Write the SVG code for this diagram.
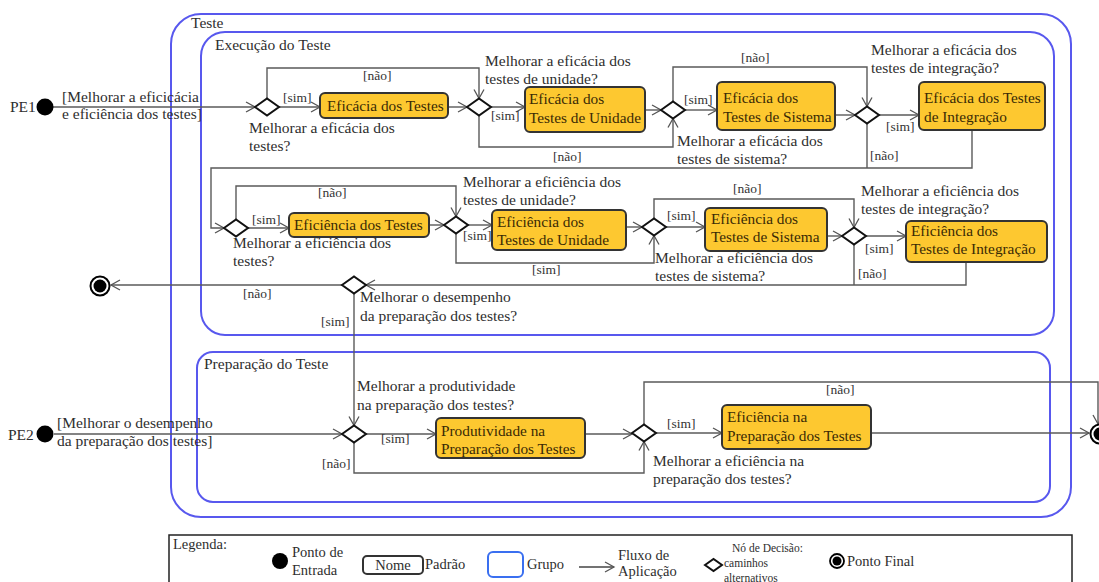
<svg xmlns="http://www.w3.org/2000/svg" xmlns:xlink="http://www.w3.org/1999/xlink" width="1099" height="582" viewBox="0 0 1099 582">
<style>
text{font-family:"Liberation Serif","Times New Roman",serif;font-size:15.5px;fill:#2e2e2e}
.g{font-size:13.5px;fill:#333}
.bt{fill:#3a2a05;font-size:15.3px}
.box{fill:#fdc830;stroke:#333;stroke-width:2}
.grp{fill:none;stroke:#5858ee;stroke-width:2}
.dm{fill:#fff;stroke:#111;stroke-width:2}
.c{fill:none;stroke:#5a5a5a;stroke-width:1.4}
.ca{fill:none;stroke:#5a5a5a;stroke-width:1.4;marker-end:url(#ar)}
.lg{font-size:14.5px}
.sm{font-size:11.5px}
</style>
<defs>
<marker id="ar" markerWidth="12" markerHeight="12" refX="10" refY="6" orient="auto" markerUnits="userSpaceOnUse">
<path d="M1,1 L10,6 L1,11" fill="none" stroke="#555" stroke-width="1.3"/>
</marker>
<path id="dmd" d="M-12,0 L0,-8.5 L12,0 L0,8.5Z"/>
</defs>
<rect width="1099" height="582" fill="#fff"/>

<g id="grp-teste">
<rect class="grp" x="171" y="14" width="900" height="503" rx="30" stroke="#6a6aff"/>
<text x="191" y="28">Teste</text>
</g>
<g id="grp-execucao">
<rect class="grp" x="201" y="32" width="853" height="303" rx="24"/>
<text x="215" y="50">Execução do Teste</text>
</g>
<g id="grp-preparacao">
<rect class="grp" x="197" y="352" width="853" height="150" rx="16"/>
<text x="204" y="369">Preparação do Teste</text>
</g>

<g id="connectors">
<path class="ca" d="M53,107 H255"/>
<path class="ca" d="M279,107 H320"/>
<path class="ca" d="M448,107 H467"/>
<path class="ca" d="M267,98.5 V68 H479 V98.5"/>
<path class="ca" d="M491,107 H525"/>
<path class="ca" d="M479,115.5 V147 H673 V118.5"/>
<path class="ca" d="M645,110 H661"/>
<path class="ca" d="M685,110 H717"/>
<path class="ca" d="M673,101.5 V67 H867 V106.5"/>
<path class="ca" d="M835,115 H855"/>
<path class="ca" d="M879,115 H919"/>
<path class="c" d="M867,123.5 V168"/>
<path class="ca" d="M972,130 V168 H211 V228 H224"/>
<path class="ca" d="M248,228 H289"/>
<path class="ca" d="M236,219.5 V186 H456 V216.5"/>
<path class="ca" d="M429,225 H444"/>
<path class="ca" d="M468,225 H492"/>
<path class="ca" d="M456,233.5 V263 H654 V235.5"/>
<path class="ca" d="M626,227 H642"/>
<path class="ca" d="M666,227 H705"/>
<path class="ca" d="M654,218.5 V199 H854 V227.5"/>
<path class="ca" d="M827,236 H842"/>
<path class="ca" d="M866,236 H906"/>
<path class="c" d="M854,244.5 V285"/>
<path class="ca" d="M966,262 V285 H366"/>
<path class="ca" d="M342,285 H111"/>
<path class="ca" d="M354,293.5 V425.5"/>
<path class="ca" d="M54,434 H342"/>
<path class="ca" d="M366,434 H436"/>
<path class="ca" d="M354,442.5 V473 H644 V441.5"/>
<path class="ca" d="M585,434 H632"/>
<path class="ca" d="M656,433 H722"/>
<path class="ca" d="M644,424.5 V382 H1098 V424"/>
<path class="ca" d="M871,433 H1089"/>
</g>

<g id="pe1">
<circle cx="45" cy="107" r="8.5" fill="#000"/>
<text x="10" y="112">PE1</text>
<text x="62" y="102">[Melhorar a eficicácia</text>
<text x="62" y="119">e eficiência dos testes]</text>
</g>

<g id="d1">
<use xlink:href="#dmd" class="dm" x="267" y="107"/>
<text class="g" x="283" y="102">[sim]</text>
<text class="g" x="363" y="80">[não]</text>
<text x="249" y="133">Melhorar a eficácia dos</text>
<text x="249" y="151">testes?</text>
</g>
<g id="n-eficacia-testes">
<rect class="box" x="320" y="93" width="128" height="25" rx="5"/>
<text class="bt" x="327" y="111">Eficácia dos Testes</text>
</g>
<g id="d2">
<use xlink:href="#dmd" class="dm" x="479" y="107"/>
<text x="485" y="66">Melhorar a eficácia dos</text>
<text x="485" y="84">testes de unidade?</text>
<text class="g" x="491" y="120">[sim]</text>
<text class="g" x="553" y="161">[não]</text>
</g>
<g id="n-eficacia-unidade">
<rect class="box" x="525" y="87" width="120" height="45" rx="5"/>
<text class="bt" x="529" y="104">Eficácia dos</text>
<text class="bt" x="529" y="123">Testes de Unidade</text>
</g>
<g id="d3">
<use xlink:href="#dmd" class="dm" x="673" y="110"/>
<text class="g" x="684" y="104">[sim]</text>
<text class="g" x="741" y="62">[não]</text>
<text x="677" y="146">Melhorar a eficácia dos</text>
<text x="677" y="164">testes de sistema?</text>
</g>
<g id="n-eficacia-sistema">
<rect class="box" x="717" y="82" width="118" height="48" rx="5"/>
<text class="bt" x="723" y="103">Eficácia dos</text>
<text class="bt" x="723" y="122">Testes de Sistema</text>
</g>
<g id="d4">
<use xlink:href="#dmd" class="dm" x="867" y="115"/>
<text x="871" y="55">Melhorar a eficácia dos</text>
<text x="871" y="73">testes de integração?</text>
<text class="g" x="886" y="131">[sim]</text>
<text class="g" x="870" y="160">[não]</text>
</g>
<g id="n-eficacia-integracao">
<rect class="box" x="919" y="82" width="126" height="48" rx="5"/>
<text class="bt" x="924" y="103">Eficácia dos Testes</text>
<text class="bt" x="924" y="122">de Integração</text>
</g>

<g id="d5">
<use xlink:href="#dmd" class="dm" x="236" y="228"/>
<text class="g" x="252" y="224">[sim]</text>
<text class="g" x="318" y="197">[não]</text>
<text x="233" y="248">Melhorar a eficiência dos</text>
<text x="233" y="266">testes?</text>
</g>
<g id="n-eficiencia-testes">
<rect class="box" x="289" y="213" width="140" height="24" rx="5"/>
<text class="bt" x="294" y="230">Eficiência dos Testes</text>
</g>
<g id="d6">
<use xlink:href="#dmd" class="dm" x="456" y="225"/>
<text x="463" y="187">Melhorar a eficiência dos</text>
<text x="463" y="205">testes de unidade?</text>
<text class="g" x="463" y="240">[sim]</text>
<text class="g" x="532" y="274">[sim]</text>
</g>
<g id="n-eficiencia-unidade">
<rect class="box" x="492" y="210" width="134" height="40" rx="5"/>
<text class="bt" x="497" y="227">Eficiência dos</text>
<text class="bt" x="497" y="245">Testes de Unidade</text>
</g>
<g id="d7">
<use xlink:href="#dmd" class="dm" x="654" y="227"/>
<text class="g" x="667" y="220">[sim]</text>
<text class="g" x="733" y="193">[não]</text>
<text x="655" y="263">Melhorar a eficiência dos</text>
<text x="655" y="281">testes de sistema?</text>
</g>
<g id="n-eficiencia-sistema">
<rect class="box" x="705" y="208" width="122" height="43" rx="5"/>
<text class="bt" x="711" y="224">Eficiência dos</text>
<text class="bt" x="711" y="242">Testes de Sistema</text>
</g>
<g id="d8">
<use xlink:href="#dmd" class="dm" x="854" y="236"/>
<text x="861" y="196">Melhorar a eficiência dos</text>
<text x="861" y="214">testes de integração?</text>
<text class="g" x="865" y="253">[sim]</text>
<text class="g" x="858" y="278">[não]</text>
</g>
<g id="n-eficiencia-integracao">
<rect class="box" x="906" y="221" width="141" height="41" rx="5"/>
<text class="bt" x="911" y="236">Eficiência dos</text>
<text class="bt" x="911" y="254">Testes de Integração</text>
</g>

<g id="d9">
<use xlink:href="#dmd" class="dm" x="354" y="285"/>
<text class="g" x="243" y="298">[não]</text>
<text class="g" x="321" y="326">[sim]</text>
<text x="360" y="302">Melhorar o desempenho</text>
<text x="360" y="321">da preparação dos testes?</text>
</g>
<g id="final1">
<circle cx="100" cy="286" r="9.5" fill="#fff" stroke="#000" stroke-width="2"/>
<circle cx="100" cy="286" r="6.5" fill="#000"/>
</g>

<g id="pe2">
<circle cx="45" cy="434" r="8.5" fill="#000"/>
<text x="8" y="440">PE2</text>
<text x="57" y="428">[Melhorar o desempenho</text>
<text x="57" y="446">da preparação dos testes]</text>
</g>
<g id="d10">
<use xlink:href="#dmd" class="dm" x="354" y="434"/>
<text x="357" y="391">Melhorar a produtividade</text>
<text x="357" y="410">na preparação dos testes?</text>
<text class="g" x="381" y="443">[sim]</text>
<text class="g" x="322" y="468">[não]</text>
</g>
<g id="n-produtividade">
<rect class="box" x="436" y="418" width="149" height="40" rx="5"/>
<text class="bt" x="441" y="436">Produtividade na</text>
<text class="bt" x="441" y="454">Preparação dos Testes</text>
</g>
<g id="d11">
<use xlink:href="#dmd" class="dm" x="644" y="433"/>
<text class="g" x="667" y="428">[sim]</text>
<text class="g" x="826" y="394">[não]</text>
<text x="653" y="466">Melhorar a eficiência na</text>
<text x="653" y="484">preparação dos testes?</text>
</g>
<g id="n-eficiencia-preparacao">
<rect class="box" x="722" y="405" width="149" height="44" rx="5"/>
<text class="bt" x="727" y="422">Eficiência na</text>
<text class="bt" x="727" y="441">Preparação dos Testes</text>
</g>
<g id="final2">
<circle cx="1100" cy="434" r="9.5" fill="#fff" stroke="#000" stroke-width="2"/>
<circle cx="1100" cy="434" r="6.5" fill="#000"/>
</g>

<g id="legend">
<rect x="169" y="535" width="903" height="60" fill="none" stroke="#222" stroke-width="1.5"/>
<text class="lg" x="173" y="549">Legenda:</text>
<circle cx="280" cy="561" r="8" fill="#000"/>
<text class="lg" x="292" y="557">Ponto de</text>
<text class="lg" x="292" y="575">Entrada</text>
<rect x="363" y="556" width="60" height="18" rx="4" fill="#fff" stroke="#333" stroke-width="2"/>
<text class="lg" x="393" y="570" text-anchor="middle">Nome</text>
<text class="lg" x="425" y="569">Padrão</text>
<rect x="488" y="552" width="35" height="25" rx="5" fill="none" stroke="#3a6ff0" stroke-width="2"/>
<text class="lg" x="527" y="569">Grupo</text>
<path d="M579,567 H614" fill="none" stroke="#444" stroke-width="1.4" marker-end="url(#ar)"/>
<text class="lg" x="618" y="560">Fluxo de</text>
<text class="lg" x="618" y="576">Aplicação</text>
<path d="M705,565 L713.5,559 L722,565 L713.5,571Z" fill="#fff" stroke="#111" stroke-width="2"/>
<text class="sm" x="732" y="552">Nó de Decisão:</text>
<text class="sm" x="724" y="567">caminhos</text>
<text class="sm" x="724" y="582">alternativos</text>
<circle cx="837" cy="561" r="7" fill="#fff" stroke="#000" stroke-width="1.8"/>
<circle cx="837" cy="561" r="4.5" fill="#000"/>
<text class="lg" x="847" y="566">Ponto Final</text>
</g>
</svg>
